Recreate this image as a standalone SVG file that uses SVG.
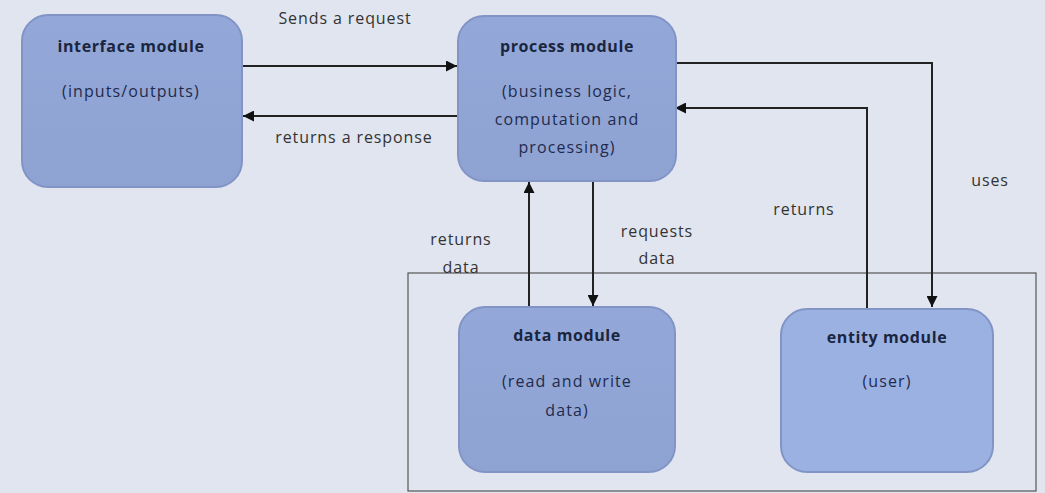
<svg xmlns="http://www.w3.org/2000/svg" width="1045" height="493" viewBox="0 0 1045 493">
<defs>
<linearGradient id="g" x1="0" y1="0" x2="0" y2="1">
<stop offset="0" stop-color="#93a8d8"/>
<stop offset="1" stop-color="#8fa3d3"/>
</linearGradient>
<marker id="ah" viewBox="0 0 10 10" refX="10" refY="5" markerWidth="6" markerHeight="5.5" orient="auto-start-reverse" markerUnits="strokeWidth">
<path d="M0,0 L10,5 L0,10 z" fill="#111"/>
</marker>
<style>
.node{fill:url(#g);stroke:#8294c6;stroke-width:2}
.title{font-family:"Open Sans","Liberation Sans",sans-serif;font-size:16px;font-weight:bold;fill:#1a2540;text-anchor:middle;letter-spacing:0.6px}
.sub{font-family:"Open Sans","Liberation Sans",sans-serif;font-size:16px;fill:#1f2b4d;text-anchor:middle;letter-spacing:1.1px}
.lbl{font-family:"Open Sans","Liberation Sans",sans-serif;font-size:16px;fill:#333;text-anchor:middle;letter-spacing:0.9px}
.ln{fill:none;stroke:#222;stroke-width:2}
</style>
</defs>
<rect width="1045" height="493" fill="#e0e5f0"/>
<rect x="408" y="273" width="628" height="218" fill="none" stroke="#555" stroke-width="1.2"/>
<g id="connectors">
<line class="ln" x1="243" y1="66" x2="457" y2="66" marker-end="url(#ah)"/>
<line class="ln" x1="458" y1="116" x2="243" y2="116" marker-end="url(#ah)"/>
<line class="ln" x1="529" y1="307" x2="529" y2="182" marker-end="url(#ah)"/>
<line class="ln" x1="593" y1="181" x2="593" y2="306" marker-end="url(#ah)"/>
<polyline class="ln" points="867,309 867,108 675,108" marker-end="url(#ah)"/>
<polyline class="ln" points="670,63 932,63 932,307" marker-end="url(#ah)"/>
</g>
<g id="labels">
<text class="lbl" x="345" y="24">Sends a request</text>
<text class="lbl" x="354" y="143">returns a response</text>
<text class="lbl" x="990" y="186">uses</text>
<text class="lbl" x="804" y="215">returns</text>
<text class="lbl" x="461" y="245">returns</text>
<text class="lbl" x="461" y="273">data</text>
<text class="lbl" x="657" y="237">requests</text>
<text class="lbl" x="657" y="264">data</text>
</g>
<g id="interface">
<rect class="node" x="22" y="15" width="220" height="172" rx="26"/>
<text class="title" x="131" y="52">interface module</text>
<text class="sub" x="131" y="97">(inputs/outputs)</text>
</g>
<g id="process">
<rect class="node" x="458" y="16" width="218" height="165" rx="26"/>
<text class="title" x="567" y="52">process module</text>
<text class="sub" x="567" y="97">(business logic,</text>
<text class="sub" x="567" y="125">computation and</text>
<text class="sub" x="567" y="153">processing)</text>
</g>
<g id="data">
<rect class="node" x="459" y="307" width="216" height="165" rx="26"/>
<text class="title" x="567" y="341">data module</text>
<text class="sub" x="567" y="387">(read and write</text>
<text class="sub" x="567" y="416">data)</text>
</g>
<g id="entity">
<rect class="node" x="781" y="309" width="212" height="163" rx="26" style="fill:#9bb1e2"/>
<text class="title" x="887" y="343">entity module</text>
<text class="sub" x="887" y="387">(user)</text>
</g>
</svg>
